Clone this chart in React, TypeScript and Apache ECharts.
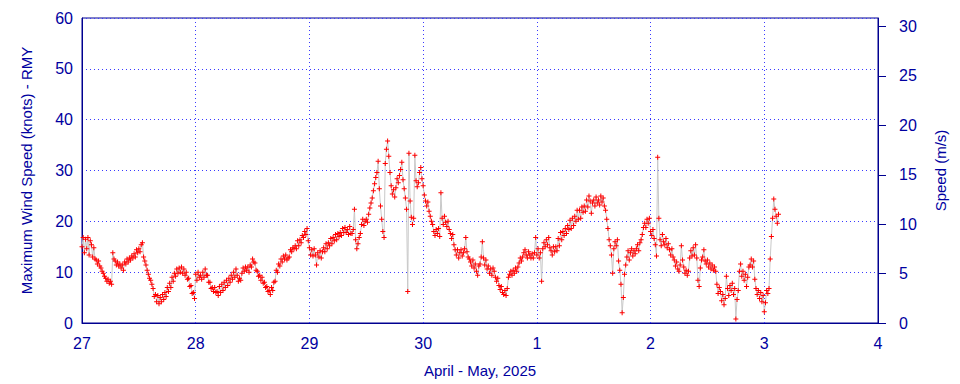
import React, { useEffect, useRef } from "react";
import * as echarts from "echarts";

// Maximum wind speed (knots), one reading every 15 minutes from 27 April 00:00
const apr27 = [
  15, 16.8, 13.8, 16.5, 14.6, 16.8, 13.4, 16.2, 15.4, 13, 14.8, 12.6, 12.4, 11.6, 12.2, 11.2,
  10.8, 10.2, 9.8, 9.2, 8.8, 8.2, 8.6, 7.8, 8.2, 7.6, 13.8, 12.6, 12.2, 11.4, 12, 11.2,
  11.6, 10.8, 11.4, 10.4, 12, 11.6, 12.6, 12, 12.8, 12.4, 13.2, 12.8, 13.6, 13, 14.4, 13.8,
  14.6, 14, 15.4, 15.8, 13, 12.2, 11.4, 10.4, 9.6, 8.8, 8.4, 7.6, 6.8, 5.2, 5.6, 4.2,
  5.4, 3.8, 5, 4.2, 5.6, 4.6, 6, 5.2, 7, 6.2, 7.8, 7, 9, 8.2, 9.8, 9.2,
  10.6, 9.8, 10.8, 10, 11, 9.8, 10.6, 9.4, 10, 8.6, 8.8, 7.2, 7.4, 5.8, 6, 4.8,
];
const apr28 = [
  9.6, 8.4, 10, 9, 9.4, 8.6, 10, 9, 10.6, 9.4, 9.4, 8, 8, 6.8, 7, 6.2,
  7, 6, 6.2, 5.4, 7.2, 6, 7.6, 6.4, 8, 7, 8.4, 7.4, 8.8, 8, 9.4, 8.6,
  10, 9, 10.6, 9.4, 8.2, 8.8, 8.4, 9.8, 10.8, 10.2, 11, 10.4, 11, 10, 11.4, 11,
  12.6, 12, 11.8, 10.4, 10.2, 9.2, 9.4, 8.4, 9, 7.8, 8, 7, 7.2, 6.2, 6.4, 5.6,
  7, 6.4, 8, 8.2, 10.4, 10, 11.6, 11.2, 12.6, 12, 13.2, 12.6, 13.4, 12.4, 12.8, 13,
  14.4, 14, 14.8, 14.6, 15.2, 14.6, 16.2, 15.2, 16.4, 15.8, 17.2, 16.8, 18, 17.4, 18.6, 16.2,
];
const apr29 = [
  14.8, 13.4, 14.4, 13.2, 14.6, 13.4, 11.4, 13.8, 13, 14.2, 12.8, 14, 14.8, 14, 15.6, 14.6,
  15.8, 15.2, 16.6, 15.6, 16.8, 16.2, 17.4, 16.4, 17.6, 17, 17.8, 17.2, 18.6, 17.8, 18.8, 17.8,
  18.4, 17.4, 19, 17.6, 17.6, 18.4, 22.4, 16.4, 14.6, 15.6, 16.8, 17.6, 19.4, 20.4, 19.2, 20,
  20.4, 19.8, 21.4, 22.6, 23.6, 24.6, 26, 27.4, 28.6, 29.6, 31.8, 26.4, 23, 20.4, 18, 16.8,
  31.4, 34.2, 35.8, 32.8, 29.6, 27, 25.4, 26.2, 24.8, 26.6, 28.4, 27.6, 29, 30.2, 31.6, 28.2,
  26.4, 24.6, 22.4, 6.2, 33.4, 24, 20.8, 19.4, 20.6, 33, 28, 26.8, 27.6, 29.6, 30.6, 28.4,
];
const apr30 = [
  27, 25.2, 24, 23, 23.8, 22, 21, 20, 19.4, 18, 17.2, 18.4, 17.6, 18.6, 17, 25.6,
  20.6, 19.4, 21, 19.8, 19, 20, 18.4, 17.6, 16.6, 17.4, 15.4, 14.4, 13.4, 14.4, 12.8, 13.8,
  14.4, 13.2, 13.8, 14.6, 16.8, 14, 13, 12.6, 12, 11.2, 12.4, 10.8, 11.6, 10.2, 9.4, 11.2,
  11.6, 13, 16, 12.8, 11.4, 12.4, 10.6, 11.2, 9.8, 10.6, 9.4, 10.8, 10.2, 9, 8.2, 8.8,
  7.4, 6.6, 7.2, 6, 5.6, 6.4, 5.4, 6.8, 9, 9.6, 10.2, 9.4, 10.4, 9.8, 10.8, 10.2,
  11, 11.8, 12.8, 12.2, 13, 13.8, 14.4, 13.4, 12.8, 14, 13.4, 12.8, 13.6, 12.8, 13.8, 16.8,
];
const may1 = [
  13.4, 14.6, 12.8, 13.8, 8.2, 14.6, 15.8, 15, 16.4, 15.4, 16.8, 14.8, 14.2, 13.4, 15, 14,
  15, 14.2, 16.6, 15.2, 17.8, 16.4, 18, 17.2, 18.6, 17.6, 19.2, 18.4, 20.2, 18.6, 20.6, 19.2,
  21, 20, 22.2, 20.4, 22.2, 20.6, 22.8, 21.8, 23, 22, 24.2, 22.8, 25, 24, 21.6, 23.6,
  24.2, 23, 24.8, 23.6, 24.2, 23.2, 25, 23.8, 24.6, 23, 22.2, 20.4, 18.6, 16.4, 15.2, 13.4,
  9.8, 14.6, 16, 15.2, 16.4, 12.2, 10.4, 7.6, 2, 5, 9.6, 11.4, 13, 14.2, 12.4, 13.8,
  14.6, 13.2, 14.2, 13.6, 14.6, 15.4, 14.2, 15.8, 16.4, 17.4, 18.8, 19.6, 18.8, 20.4, 19.6, 20.6,
];
const may2 = [
  18, 17.2, 18.4, 16.6, 15.4, 13.2, 32.6, 20.6, 16.4, 15.2, 17.4, 16, 15.4, 16.6, 14.8, 15.6,
  14.4, 13.4, 14.6, 13, 12.4, 11.2, 12, 10.6, 10.2, 11.4, 15.2, 12.4, 11, 9.8, 10.4, 9.4,
  10.2, 12.8, 14.2, 13.2, 14.8, 13.4, 15.4, 12.8, 8.4, 7.2, 10.8, 12.4, 13, 14.4, 12.2, 11.6,
  12.4, 11, 11.8, 10.6, 11.4, 10.4, 11, 10.2, 7.6, 5.8, 7, 6.2, 4.4, 5.6, 3.6, 4.8,
  9.2, 6.8, 5.4, 7.4, 6.4, 7.8, 5.6, 6.8, 0.8, 4.6, 6.4, 10.2, 11.6, 9.2, 10.2, 8.4,
  9.6, 7.2, 9, 11, 11.4, 12.6, 11, 12.2, 8.6, 6.8, 5.6, 6.4, 4.8, 6, 4.2, 5.4,
];
const may3 = [2.2, 4, 6.4, 5.8, 6.8, 12.6, 17, 20.6, 24.4, 22.4, 21, 19.6, 21.4];

const xTickLabels = ["27", "28", "29", "30", "1", "2", "3", "4"];
const leftTicks = [0, 10, 20, 30, 40, 50, 60];
const rightTicks = [0, 5, 10, 15, 20, 25, 30];

const KNOT_TO_MS = 0.514444;
const STEP_HOURS = 0.25;

const TEXT = "#0000a0";
const AXIS = "#000090";
const GRID = "#3a3aff";
const FONT = "'Liberation Sans', Arial, sans-serif";

export default function App() {
  const ref = useRef<HTMLDivElement>(null);

  useEffect(() => {
    if (!ref.current) return;
    const chart = echarts.init(ref.current, undefined, { renderer: "svg" });
    const values = [...apr27, ...apr28, ...apr29, ...apr30, ...may1, ...may2, ...may3];
    const data = values.map((v, i) => [i * STEP_HOURS, v]);
    const plus =
      "path://M2,0 L3,0 L3,2 L5,2 L5,3 L3,3 L3,5 L2,5 L2,3 L0,3 L0,2 L2,2 Z";

    chart.setOption({
      animation: false,
      textStyle: { fontFamily: FONT },
      grid: {
        left: 82,
        right: 82,
        top: 18,
        bottom: 61,
        show: true,
        borderColor: AXIS,
        borderWidth: 1,
        containLabel: false,
      },
      xAxis: {
        type: "value",
        min: 0,
        max: 168,
        interval: 24,
        name: "April - May, 2025",
        nameLocation: "middle",
        nameGap: 40,
        nameTextStyle: { color: TEXT, fontSize: 15, fontFamily: FONT },
        axisLine: { show: true, lineStyle: { color: AXIS, width: 1 } },
        axisTick: { show: false },
        axisLabel: {
          color: TEXT,
          fontSize: 16,
          fontFamily: FONT,
          margin: 12,
          formatter: (v: number) => xTickLabels[Math.round(v / 24)] ?? "",
        },
        splitLine: {
          show: true,
          lineStyle: { color: GRID, width: 1, type: [1, 3] },
        },
      },
      yAxis: [
        {
          type: "value",
          min: leftTicks[0],
          max: leftTicks[leftTicks.length - 1],
          interval: 10,
          position: "left",
          name: "Maximum Wind Speed (knots) - RMY",
          nameLocation: "middle",
          nameGap: 48,
          nameRotate: 90,
          nameTextStyle: { color: TEXT, fontSize: 15, fontFamily: FONT },
          axisLine: { show: true, lineStyle: { color: AXIS, width: 1 } },
          axisTick: { show: false },
          axisLabel: { color: TEXT, fontSize: 16, fontFamily: FONT, margin: 9 },
          splitLine: {
            show: true,
            lineStyle: { color: GRID, width: 1, type: [1, 3] },
          },
        },
        {
          type: "value",
          min: 0,
          max: leftTicks[leftTicks.length - 1] * KNOT_TO_MS,
          position: "right",
          name: "Speed (m/s)",
          nameLocation: "middle",
          nameGap: 55,
          nameRotate: 90,
          nameTextStyle: { color: TEXT, fontSize: 15, fontFamily: FONT },
          axisLine: { show: true, lineStyle: { color: AXIS, width: 1 } },
          axisTick: {
            show: true,
            inside: false,
            length: 8,
            customValues: rightTicks,
            lineStyle: { color: AXIS, width: 1 },
          },
          axisLabel: {
            color: TEXT,
            fontSize: 16,
            fontFamily: FONT,
            margin: 21,
            customValues: rightTicks,
            formatter: (v: number) => String(Math.round(v)),
          },
          splitLine: { show: false },
        },
      ],
      series: [
        {
          type: "line",
          yAxisIndex: 0,
          data,
          symbol: plus,
          symbolSize: 5,
          showSymbol: true,
          showAllSymbol: true,
          itemStyle: { color: "#ff0000" },
          lineStyle: { color: "#c8c8c8", width: 1 },
          emphasis: { disabled: true },
          silent: true,
        },
      ],
    });

    return () => chart.dispose();
  }, []);

  return (
    <div
      ref={ref}
      style={{ position: "fixed", left: 0, top: 0, width: 960, height: 384, background: "#fff" }}
    />
  );
}
